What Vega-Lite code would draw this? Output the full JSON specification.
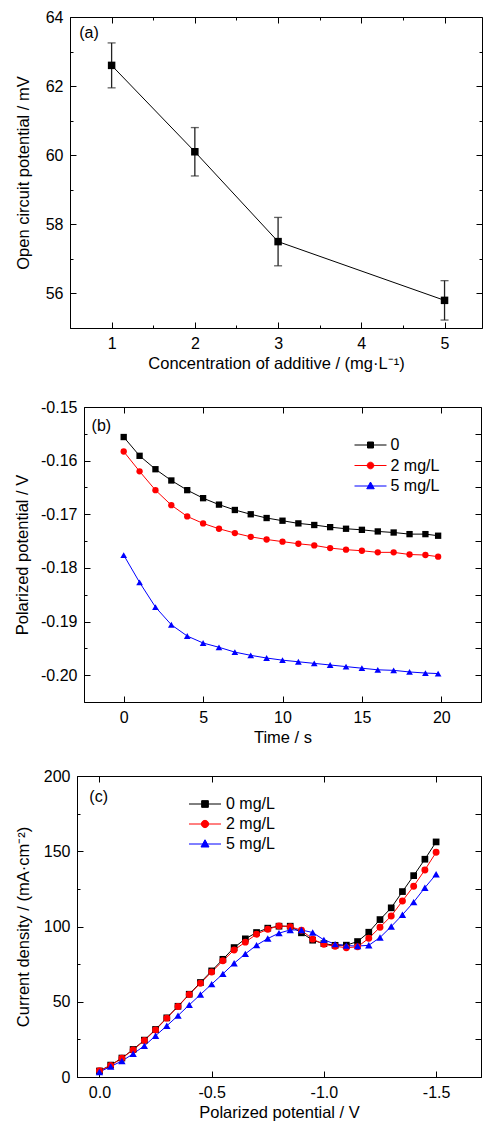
{
"$schema": "https://vega.github.io/schema/vega-lite/v6.json",
"padding": {"left": 0, "top": 8, "right": 0, "bottom": 0},
"background": "white",
"config": {
 "font": "Liberation Sans",
 "view": {"stroke": "black", "strokeWidth": 1},
 "axis": {"grid": false, "domainColor": "black", "domainWidth": 1, "tickColor": "black", "tickWidth": 1, "tickSize": -6, "labelColor": "black", "labelFont": "Liberation Sans", "labelFontSize": 16, "labelPadding": 13, "titleFont": "Liberation Sans", "titleFontSize": 16.5, "titleFontWeight": "normal", "titleColor": "black", "labelFlush": false, "labelOverlap": false},
 "legend": {"labelFont": "Liberation Sans", "labelFontSize": 16, "labelColor": "black"}
},
"datasets": {
 "a": [
  {"conc": 1, "ocp": 62.6, "lo": 61.95, "hi": 63.25},
  {"conc": 2, "ocp": 60.1, "lo": 59.4, "hi": 60.8},
  {"conc": 3, "ocp": 57.5, "lo": 56.8, "hi": 58.2},
  {"conc": 5, "ocp": 55.8, "lo": 55.23, "hi": 56.37}
 ],
 "b": [
  {"t":0,"v":-0.1556,"s":"0"},{"t":1,"v":-0.1591,"s":"0"},{"t":2,"v":-0.1616,"s":"0"},{"t":3,"v":-0.1637,"s":"0"},{"t":4,"v":-0.1655,"s":"0"},{"t":5,"v":-0.1670,"s":"0"},{"t":6,"v":-0.1682,"s":"0"},{"t":7,"v":-0.1692,"s":"0"},{"t":8,"v":-0.1700,"s":"0"},{"t":9,"v":-0.1707,"s":"0"},{"t":10,"v":-0.1712,"s":"0"},{"t":11,"v":-0.1717,"s":"0"},{"t":12,"v":-0.1720,"s":"0"},{"t":13,"v":-0.1724,"s":"0"},{"t":14,"v":-0.1727,"s":"0"},{"t":15,"v":-0.1729,"s":"0"},{"t":16,"v":-0.1732,"s":"0"},{"t":17,"v":-0.1734,"s":"0"},{"t":18,"v":-0.1737,"s":"0"},{"t":19,"v":-0.1737,"s":"0"},{"t":19.8,"v":-0.1740,"s":"0"},
  {"t":0,"v":-0.1583,"s":"2 mg/L"},{"t":1,"v":-0.1620,"s":"2 mg/L"},{"t":2,"v":-0.1655,"s":"2 mg/L"},{"t":3,"v":-0.1683,"s":"2 mg/L"},{"t":4,"v":-0.1704,"s":"2 mg/L"},{"t":5,"v":-0.1717,"s":"2 mg/L"},{"t":6,"v":-0.1727,"s":"2 mg/L"},{"t":7,"v":-0.1735,"s":"2 mg/L"},{"t":8,"v":-0.1742,"s":"2 mg/L"},{"t":9,"v":-0.1747,"s":"2 mg/L"},{"t":10,"v":-0.1751,"s":"2 mg/L"},{"t":11,"v":-0.1755,"s":"2 mg/L"},{"t":12,"v":-0.1758,"s":"2 mg/L"},{"t":13,"v":-0.1763,"s":"2 mg/L"},{"t":14,"v":-0.1766,"s":"2 mg/L"},{"t":15,"v":-0.1768,"s":"2 mg/L"},{"t":16,"v":-0.1771,"s":"2 mg/L"},{"t":17,"v":-0.1771,"s":"2 mg/L"},{"t":18,"v":-0.1775,"s":"2 mg/L"},{"t":19,"v":-0.1776,"s":"2 mg/L"},{"t":19.8,"v":-0.1779,"s":"2 mg/L"},
  {"t":0,"v":-0.1776,"s":"5 mg/L"},{"t":1,"v":-0.1827,"s":"5 mg/L"},{"t":2,"v":-0.1873,"s":"5 mg/L"},{"t":3,"v":-0.1906,"s":"5 mg/L"},{"t":4,"v":-0.1927,"s":"5 mg/L"},{"t":5,"v":-0.1940,"s":"5 mg/L"},{"t":6,"v":-0.1948,"s":"5 mg/L"},{"t":7,"v":-0.1957,"s":"5 mg/L"},{"t":8,"v":-0.1963,"s":"5 mg/L"},{"t":9,"v":-0.1968,"s":"5 mg/L"},{"t":10,"v":-0.1972,"s":"5 mg/L"},{"t":11,"v":-0.1975,"s":"5 mg/L"},{"t":12,"v":-0.1978,"s":"5 mg/L"},{"t":13,"v":-0.1981,"s":"5 mg/L"},{"t":14,"v":-0.1984,"s":"5 mg/L"},{"t":15,"v":-0.1987,"s":"5 mg/L"},{"t":16,"v":-0.1990,"s":"5 mg/L"},{"t":17,"v":-0.1991,"s":"5 mg/L"},{"t":18,"v":-0.1994,"s":"5 mg/L"},{"t":19,"v":-0.1996,"s":"5 mg/L"},{"t":19.8,"v":-0.1997,"s":"5 mg/L"}
 ],
 "c": [
  {"p":0,"j":4.0,"s":"0 mg/L"},{"p":-0.05,"j":7.9,"s":"0 mg/L"},{"p":-0.1,"j":12.6,"s":"0 mg/L"},{"p":-0.15,"j":18.3,"s":"0 mg/L"},{"p":-0.2,"j":24.5,"s":"0 mg/L"},{"p":-0.25,"j":31.6,"s":"0 mg/L"},{"p":-0.3,"j":39.3,"s":"0 mg/L"},{"p":-0.35,"j":47.0,"s":"0 mg/L"},{"p":-0.4,"j":55.0,"s":"0 mg/L"},{"p":-0.45,"j":62.8,"s":"0 mg/L"},{"p":-0.5,"j":70.5,"s":"0 mg/L"},{"p":-0.55,"j":78.2,"s":"0 mg/L"},{"p":-0.6,"j":86.0,"s":"0 mg/L"},{"p":-0.65,"j":91.8,"s":"0 mg/L"},{"p":-0.7,"j":96.0,"s":"0 mg/L"},{"p":-0.75,"j":98.9,"s":"0 mg/L"},{"p":-0.8,"j":100.2,"s":"0 mg/L"},{"p":-0.85,"j":100.2,"s":"0 mg/L"},{"p":-0.9,"j":95.8,"s":"0 mg/L"},{"p":-0.95,"j":90.9,"s":"0 mg/L"},{"p":-1.0,"j":88.6,"s":"0 mg/L"},{"p":-1.05,"j":87.5,"s":"0 mg/L"},{"p":-1.1,"j":87.6,"s":"0 mg/L"},{"p":-1.15,"j":90.0,"s":"0 mg/L"},{"p":-1.2,"j":96.2,"s":"0 mg/L"},{"p":-1.25,"j":104.6,"s":"0 mg/L"},{"p":-1.3,"j":112.4,"s":"0 mg/L"},{"p":-1.35,"j":123.2,"s":"0 mg/L"},{"p":-1.4,"j":133.8,"s":"0 mg/L"},{"p":-1.45,"j":144.7,"s":"0 mg/L"},{"p":-1.5,"j":156.2,"s":"0 mg/L"},
  {"p":0,"j":4.1,"s":"2 mg/L"},{"p":-0.05,"j":7.6,"s":"2 mg/L"},{"p":-0.1,"j":12.5,"s":"2 mg/L"},{"p":-0.15,"j":18.0,"s":"2 mg/L"},{"p":-0.2,"j":24.2,"s":"2 mg/L"},{"p":-0.25,"j":31.3,"s":"2 mg/L"},{"p":-0.3,"j":39.1,"s":"2 mg/L"},{"p":-0.35,"j":46.8,"s":"2 mg/L"},{"p":-0.4,"j":54.8,"s":"2 mg/L"},{"p":-0.45,"j":62.3,"s":"2 mg/L"},{"p":-0.5,"j":69.8,"s":"2 mg/L"},{"p":-0.55,"j":77.2,"s":"2 mg/L"},{"p":-0.6,"j":84.4,"s":"2 mg/L"},{"p":-0.65,"j":89.6,"s":"2 mg/L"},{"p":-0.7,"j":94.9,"s":"2 mg/L"},{"p":-0.75,"j":98.2,"s":"2 mg/L"},{"p":-0.8,"j":100.4,"s":"2 mg/L"},{"p":-0.85,"j":99.9,"s":"2 mg/L"},{"p":-0.9,"j":97.5,"s":"2 mg/L"},{"p":-0.95,"j":91.6,"s":"2 mg/L"},{"p":-1.0,"j":88.2,"s":"2 mg/L"},{"p":-1.05,"j":86.9,"s":"2 mg/L"},{"p":-1.1,"j":85.9,"s":"2 mg/L"},{"p":-1.15,"j":86.5,"s":"2 mg/L"},{"p":-1.2,"j":92.2,"s":"2 mg/L"},{"p":-1.25,"j":99.5,"s":"2 mg/L"},{"p":-1.3,"j":107.0,"s":"2 mg/L"},{"p":-1.35,"j":117.0,"s":"2 mg/L"},{"p":-1.4,"j":126.8,"s":"2 mg/L"},{"p":-1.45,"j":137.6,"s":"2 mg/L"},{"p":-1.5,"j":149.3,"s":"2 mg/L"},
  {"p":0,"j":3.3,"s":"5 mg/L"},{"p":-0.05,"j":7.0,"s":"5 mg/L"},{"p":-0.1,"j":10.6,"s":"5 mg/L"},{"p":-0.15,"j":15.4,"s":"5 mg/L"},{"p":-0.2,"j":20.7,"s":"5 mg/L"},{"p":-0.25,"j":27.4,"s":"5 mg/L"},{"p":-0.3,"j":34.0,"s":"5 mg/L"},{"p":-0.35,"j":40.8,"s":"5 mg/L"},{"p":-0.4,"j":47.9,"s":"5 mg/L"},{"p":-0.45,"j":54.8,"s":"5 mg/L"},{"p":-0.5,"j":61.7,"s":"5 mg/L"},{"p":-0.55,"j":68.5,"s":"5 mg/L"},{"p":-0.6,"j":75.6,"s":"5 mg/L"},{"p":-0.65,"j":81.8,"s":"5 mg/L"},{"p":-0.7,"j":87.6,"s":"5 mg/L"},{"p":-0.75,"j":92.0,"s":"5 mg/L"},{"p":-0.8,"j":95.6,"s":"5 mg/L"},{"p":-0.85,"j":97.7,"s":"5 mg/L"},{"p":-0.9,"j":97.7,"s":"5 mg/L"},{"p":-0.95,"j":96.0,"s":"5 mg/L"},{"p":-1.0,"j":91.1,"s":"5 mg/L"},{"p":-1.05,"j":88.3,"s":"5 mg/L"},{"p":-1.1,"j":87.3,"s":"5 mg/L"},{"p":-1.15,"j":87.0,"s":"5 mg/L"},{"p":-1.2,"j":87.5,"s":"5 mg/L"},{"p":-1.25,"j":92.7,"s":"5 mg/L"},{"p":-1.3,"j":100.0,"s":"5 mg/L"},{"p":-1.35,"j":107.8,"s":"5 mg/L"},{"p":-1.4,"j":116.2,"s":"5 mg/L"},{"p":-1.45,"j":125.8,"s":"5 mg/L"},{"p":-1.5,"j":134.7,"s":"5 mg/L"}
 ]
},
"spacing": 21,
"resolve": {"scale": {"color": "independent", "shape": "independent"}},
"vconcat": [
 {
  "spacing": 26,
  "resolve": {"scale": {"color": "independent", "shape": "independent"}},
  "vconcat": [
   {"spacing": 0, "hconcat": [
    {"width": 14, "height": 10, "view": {"stroke": null}, "data": {"values": [{}]}, "mark": {"type": "point", "size": 0, "opacity": 0}},
    {
    "width": 412, "height": 311,
    "data": {"name": "a"},
    "resolve": {"axis": {"x": "independent", "y": "independent"}},
    "layer": [
     {"mark": {"type": "line", "color": "black", "strokeWidth": 1},
      "encoding": {
       "x": {"field": "conc", "type": "quantitative", "scale": {"domain": [0.5, 5.45], "nice": false, "zero": false}, "axis": {"orient": "bottom", "values": [1,2,3,4,5], "format": "d", "title": "Concentration of additive / (mg·L⁻¹)", "titlePadding": 4}},
       "y": {"field": "ocp", "type": "quantitative", "scale": {"domain": [55, 64], "nice": false, "zero": false}, "axis": {"orient": "left", "values": [56,58,60,62,64], "format": "d", "title": "Open circuit potential / mV", "titlePadding": 14}}}},
     {"mark": {"type": "rule", "color": "#222222", "strokeWidth": 1.3},
      "encoding": {
       "x": {"field": "conc", "type": "quantitative", "scale": {"domain": [0.5, 5.45], "nice": false, "zero": false}, "axis": {"orient": "bottom", "values": [1.5,2.5,3.5,4.5], "labels": false, "title": null, "domain": false, "tickSize": -3}},
       "y": {"field": "lo", "type": "quantitative", "scale": {"domain": [55, 64], "nice": false, "zero": false}, "axis": {"orient": "left", "values": [57,59,61,63], "labels": false, "title": null, "domain": false, "tickSize": -3}},
       "y2": {"field": "hi"}}},
     {"mark": {"type": "tick", "orient": "horizontal", "color": "#222222", "size": 8, "thickness": 1.3},
      "encoding": {
       "x": {"field": "conc", "type": "quantitative", "scale": {"domain": [0.5, 5.45], "nice": false, "zero": false}, "axis": {"orient": "top", "values": [1,2,3,4,5], "labels": false, "title": null, "domain": false}},
       "y": {"field": "lo", "type": "quantitative", "scale": {"domain": [55, 64], "nice": false, "zero": false}, "axis": {"orient": "right", "values": [56,58,60,62,64], "labels": false, "title": null, "domain": false}}}},
     {"mark": {"type": "tick", "orient": "horizontal", "color": "#222222", "size": 8, "thickness": 1.3},
      "encoding": {
       "x": {"field": "conc", "type": "quantitative", "scale": {"domain": [0.5, 5.45], "nice": false, "zero": false}, "axis": {"orient": "top", "values": [1.5,2.5,3.5,4.5], "labels": false, "title": null, "domain": false, "tickSize": -3}},
       "y": {"field": "hi", "type": "quantitative", "scale": {"domain": [55, 64], "nice": false, "zero": false}, "axis": {"orient": "right", "values": [57,59,61,63], "labels": false, "title": null, "domain": false, "tickSize": -3}}}},
     {"mark": {"type": "point", "shape": "square", "filled": true, "size": 56, "color": "black", "opacity": 1},
      "encoding": {
       "x": {"field": "conc", "type": "quantitative", "scale": {"domain": [0.5, 5.45], "nice": false, "zero": false}, "axis": null},
       "y": {"field": "ocp", "type": "quantitative", "scale": {"domain": [55, 64], "nice": false, "zero": false}, "axis": null}}},
     {"data": {"values": [{}]},
      "mark": {"type": "text", "align": "left", "baseline": "middle", "fontSize": 16, "font": "Liberation Sans", "color": "black"},
      "encoding": {
       "x": {"datum": 0.61, "type": "quantitative", "scale": {"domain": [0.5, 5.45], "nice": false, "zero": false}, "axis": null},
       "y": {"datum": 63.53, "type": "quantitative", "scale": {"domain": [55, 64], "nice": false, "zero": false}, "axis": null},
       "text": {"value": "(a)"}}}
    ]
   }]},
   {"spacing": 0, "resolve": {"scale": {"color": "independent", "shape": "independent"}}, "hconcat": [
    {"width": 14, "height": 10, "view": {"stroke": null}, "data": {"values": [{}]}, "mark": {"type": "point", "size": 0, "opacity": 0}},
    {
    "width": 397, "height": 295,
    "data": {"name": "b"},
    "resolve": {"axis": {"x": "independent", "y": "independent"}},
    "layer": [
     {"mark": {"type": "line", "strokeWidth": 1},
      "encoding": {
       "x": {"field": "t", "type": "quantitative", "scale": {"domain": [-2.5, 22.5], "nice": false, "zero": false}, "axis": {"orient": "bottom", "values": [0,5,10,15,20], "format": "d", "title": "Time / s", "titlePadding": 4}},
       "y": {"field": "v", "type": "quantitative", "scale": {"domain": [-0.205, -0.15], "nice": false, "zero": false}, "axis": {"orient": "left", "values": [-0.15,-0.16,-0.17,-0.18,-0.19,-0.2], "labelExpr": "datum.value < 0 ? '-' + format(-datum.value, '.2f') : format(datum.value, '.2f')", "title": "Polarized potential / V", "titlePadding": 10}},
       "color": {"field": "s", "type": "nominal", "scale": {"domain": ["0","2 mg/L","5 mg/L"], "range": ["#000000","#ff0000","#0000ff"]},
        "legend": {"title": null, "orient": "none", "legendX": 278.5, "legendY": 30, "padding": 0, "symbolSize": 100, "symbolStrokeWidth": 1, "labelOffset": 12, "labelFontSize": 16, "rowPadding": 4.5,
         "encode": {"symbols": {"update": {
          "shape": {"signal": "datum.value === '0' ? 'M-3.2,0L3.2,0M-0.6,-0.6L0.6,-0.6L0.6,0.6L-0.6,0.6Z' : (datum.value === '2 mg/L' ? 'M-3.2,0L3.2,0M0.66,0A0.66,0.66,0,1,1,-0.66,0A0.66,0.66,0,1,1,0.66,0Z' : 'M-3.2,0L3.2,0M0,-0.8L0.75,0.55L-0.75,0.55Z')"},
          "fill": {"signal": "datum.value === '0' ? '#000000' : (datum.value === '2 mg/L' ? '#ff0000' : '#0000ff')"},
          "stroke": {"signal": "datum.value === '0' ? '#000000' : (datum.value === '2 mg/L' ? '#ff0000' : '#0000ff')"},
          "opacity": {"value": 1}}}}}}}},
     {"transform": [{"filter": "datum.s === '0'"}],
      "mark": {"type": "point", "shape": "square", "filled": true, "size": 40, "opacity": 1},
      "encoding": {
       "x": {"field": "t", "type": "quantitative", "scale": {"domain": [-2.5, 22.5], "nice": false, "zero": false}, "axis": {"orient": "top", "values": [0,5,10,15,20], "labels": false, "title": null, "domain": false}},
       "y": {"field": "v", "type": "quantitative", "scale": {"domain": [-0.205, -0.15], "nice": false, "zero": false}, "axis": {"orient": "left", "values": [-0.155,-0.165,-0.175,-0.185,-0.195], "labels": false, "title": null, "domain": false, "tickSize": -3}},
       "color": {"field": "s", "type": "nominal", "scale": {"domain": ["0","2 mg/L","5 mg/L"], "range": ["#000000","#ff0000","#0000ff"]},
        "legend": {"title": null, "orient": "none", "legendX": 278.5, "legendY": 30, "padding": 0, "symbolSize": 100, "symbolStrokeWidth": 1, "labelOffset": 12, "labelFontSize": 16, "rowPadding": 4.5,
         "encode": {"symbols": {"update": {
          "shape": {"signal": "datum.value === '0' ? 'M-3.2,0L3.2,0M-0.6,-0.6L0.6,-0.6L0.6,0.6L-0.6,0.6Z' : (datum.value === '2 mg/L' ? 'M-3.2,0L3.2,0M0.66,0A0.66,0.66,0,1,1,-0.66,0A0.66,0.66,0,1,1,0.66,0Z' : 'M-3.2,0L3.2,0M0,-0.8L0.75,0.55L-0.75,0.55Z')"},
          "fill": {"signal": "datum.value === '0' ? '#000000' : (datum.value === '2 mg/L' ? '#ff0000' : '#0000ff')"},
          "stroke": {"signal": "datum.value === '0' ? '#000000' : (datum.value === '2 mg/L' ? '#ff0000' : '#0000ff')"},
          "opacity": {"value": 1}}}}}}}},
     {"transform": [{"filter": "datum.s === '2 mg/L'"}],
      "mark": {"type": "point", "shape": "circle", "filled": true, "size": 40, "opacity": 1},
      "encoding": {
       "x": {"field": "t", "type": "quantitative", "scale": {"domain": [-2.5, 22.5], "nice": false, "zero": false}, "axis": null},
       "y": {"field": "v", "type": "quantitative", "scale": {"domain": [-0.205, -0.15], "nice": false, "zero": false}, "axis": null},
       "color": {"field": "s", "type": "nominal", "scale": {"domain": ["0","2 mg/L","5 mg/L"], "range": ["#000000","#ff0000","#0000ff"]},
        "legend": {"title": null, "orient": "none", "legendX": 278.5, "legendY": 30, "padding": 0, "symbolSize": 100, "symbolStrokeWidth": 1, "labelOffset": 12, "labelFontSize": 16, "rowPadding": 4.5,
         "encode": {"symbols": {"update": {
          "shape": {"signal": "datum.value === '0' ? 'M-3.2,0L3.2,0M-0.6,-0.6L0.6,-0.6L0.6,0.6L-0.6,0.6Z' : (datum.value === '2 mg/L' ? 'M-3.2,0L3.2,0M0.66,0A0.66,0.66,0,1,1,-0.66,0A0.66,0.66,0,1,1,0.66,0Z' : 'M-3.2,0L3.2,0M0,-0.8L0.75,0.55L-0.75,0.55Z')"},
          "fill": {"signal": "datum.value === '0' ? '#000000' : (datum.value === '2 mg/L' ? '#ff0000' : '#0000ff')"},
          "stroke": {"signal": "datum.value === '0' ? '#000000' : (datum.value === '2 mg/L' ? '#ff0000' : '#0000ff')"},
          "opacity": {"value": 1}}}}}}}},
     {"transform": [{"filter": "datum.s === '5 mg/L'"}],
      "mark": {"type": "point", "shape": "triangle-up", "filled": true, "size": 45, "opacity": 1},
      "encoding": {
       "x": {"field": "t", "type": "quantitative", "scale": {"domain": [-2.5, 22.5], "nice": false, "zero": false}, "axis": null},
       "y": {"field": "v", "type": "quantitative", "scale": {"domain": [-0.205, -0.15], "nice": false, "zero": false}, "axis": null},
       "color": {"field": "s", "type": "nominal", "scale": {"domain": ["0","2 mg/L","5 mg/L"], "range": ["#000000","#ff0000","#0000ff"]},
        "legend": {"title": null, "orient": "none", "legendX": 278.5, "legendY": 30, "padding": 0, "symbolSize": 100, "symbolStrokeWidth": 1, "labelOffset": 12, "labelFontSize": 16, "rowPadding": 4.5,
         "encode": {"symbols": {"update": {
          "shape": {"signal": "datum.value === '0' ? 'M-3.2,0L3.2,0M-0.6,-0.6L0.6,-0.6L0.6,0.6L-0.6,0.6Z' : (datum.value === '2 mg/L' ? 'M-3.2,0L3.2,0M0.66,0A0.66,0.66,0,1,1,-0.66,0A0.66,0.66,0,1,1,0.66,0Z' : 'M-3.2,0L3.2,0M0,-0.8L0.75,0.55L-0.75,0.55Z')"},
          "fill": {"signal": "datum.value === '0' ? '#000000' : (datum.value === '2 mg/L' ? '#ff0000' : '#0000ff')"},
          "stroke": {"signal": "datum.value === '0' ? '#000000' : (datum.value === '2 mg/L' ? '#ff0000' : '#0000ff')"},
          "opacity": {"value": 1}}}}}}}},
     {"data": {"values": [{}]},
      "mark": {"type": "text", "align": "left", "baseline": "middle", "fontSize": 16, "font": "Liberation Sans", "color": "black"},
      "encoding": {
       "x": {"datum": -2.02, "type": "quantitative", "scale": {"domain": [-2.5, 22.5], "nice": false, "zero": false}, "axis": null},
       "y": {"datum": -0.15354, "type": "quantitative", "scale": {"domain": [-0.205, -0.15], "nice": false, "zero": false}, "axis": {"orient": "right", "values": [-0.15,-0.155,-0.16,-0.165,-0.17,-0.175,-0.18,-0.185,-0.19,-0.195,-0.2], "labels": false, "title": null, "domain": false}},
       "text": {"value": "(b)"}}}
    ]
   }]}
  ]
 },
 {"spacing": 0, "resolve": {"scale": {"color": "independent", "shape": "independent"}}, "hconcat": [
  {"width": 14, "height": 10, "view": {"stroke": null}, "data": {"values": [{}]}, "mark": {"type": "point", "size": 0, "opacity": 0}},
  {
  "width": 404, "height": 301,
  "data": {"name": "c"},
  "resolve": {"axis": {"x": "independent", "y": "independent"}},
  "layer": [
   {"mark": {"type": "line", "strokeWidth": 1},
    "encoding": {
     "x": {"field": "p", "type": "quantitative", "scale": {"domain": [-1.7, 0.1], "reverse": true, "nice": false, "zero": false}, "axis": {"orient": "bottom", "values": [0,-0.5,-1,-1.5], "labelExpr": "datum.value < 0 ? '-' + format(-datum.value, '.1f') : format(datum.value, '.1f')", "title": "Polarized potential / V", "titlePadding": 4}},
     "y": {"field": "j", "type": "quantitative", "scale": {"domain": [0, 200], "nice": false, "zero": false}, "axis": {"orient": "left", "values": [0,50,100,150,200], "format": "d", "title": "Current density / (mA·cm⁻²)", "titlePadding": 12}},
     "color": {"field": "s", "type": "nominal", "scale": {"domain": ["0 mg/L","2 mg/L","5 mg/L"], "range": ["#000000","#ff0000","#0000ff"]},
      "legend": {"title": null, "orient": "none", "legendX": 120, "legendY": 20, "padding": 0, "symbolSize": 100, "symbolStrokeWidth": 1, "labelOffset": 13, "labelFontSize": 16, "rowPadding": 4,
       "encode": {"symbols": {"update": {
        "shape": {"signal": "datum.value === '0 mg/L' ? 'M-3.2,0L3.2,0M-0.67,-0.67L0.67,-0.67L0.67,0.67L-0.67,0.67Z' : (datum.value === '2 mg/L' ? 'M-3.2,0L3.2,0M0.73,0A0.73,0.73,0,1,1,-0.73,0A0.73,0.73,0,1,1,0.73,0Z' : 'M-3.2,0L3.2,0M0,-0.85L0.8,0.6L-0.8,0.6Z')"},
        "fill": {"signal": "datum.value === '0 mg/L' ? '#000000' : (datum.value === '2 mg/L' ? '#ff0000' : '#0000ff')"},
        "stroke": {"signal": "datum.value === '0 mg/L' ? '#000000' : (datum.value === '2 mg/L' ? '#ff0000' : '#0000ff')"},
        "opacity": {"value": 1}}}}}}}},
   {"transform": [{"filter": "datum.s === '0 mg/L'"}],
    "mark": {"type": "point", "shape": "square", "filled": true, "size": 45, "opacity": 1},
    "encoding": {
     "x": {"field": "p", "type": "quantitative", "scale": {"domain": [-1.7, 0.1], "reverse": true, "nice": false, "zero": false}, "axis": {"orient": "top", "values": [0,-0.5,-1,-1.5], "labels": false, "title": null, "domain": false}},
     "y": {"field": "j", "type": "quantitative", "scale": {"domain": [0, 200], "nice": false, "zero": false}, "axis": {"orient": "left", "values": [25,75,125,175], "labels": false, "title": null, "domain": false, "tickSize": -3}},
     "color": {"field": "s", "type": "nominal", "scale": {"domain": ["0 mg/L","2 mg/L","5 mg/L"], "range": ["#000000","#ff0000","#0000ff"]},
      "legend": {"title": null, "orient": "none", "legendX": 120, "legendY": 20, "padding": 0, "symbolSize": 100, "symbolStrokeWidth": 1, "labelOffset": 13, "labelFontSize": 16, "rowPadding": 4,
       "encode": {"symbols": {"update": {
        "shape": {"signal": "datum.value === '0 mg/L' ? 'M-3.2,0L3.2,0M-0.67,-0.67L0.67,-0.67L0.67,0.67L-0.67,0.67Z' : (datum.value === '2 mg/L' ? 'M-3.2,0L3.2,0M0.73,0A0.73,0.73,0,1,1,-0.73,0A0.73,0.73,0,1,1,0.73,0Z' : 'M-3.2,0L3.2,0M0,-0.85L0.8,0.6L-0.8,0.6Z')"},
        "fill": {"signal": "datum.value === '0 mg/L' ? '#000000' : (datum.value === '2 mg/L' ? '#ff0000' : '#0000ff')"},
        "stroke": {"signal": "datum.value === '0 mg/L' ? '#000000' : (datum.value === '2 mg/L' ? '#ff0000' : '#0000ff')"},
        "opacity": {"value": 1}}}}}}}},
   {"transform": [{"filter": "datum.s === '2 mg/L'"}],
    "mark": {"type": "point", "shape": "circle", "filled": true, "size": 48, "opacity": 1},
    "encoding": {
     "x": {"field": "p", "type": "quantitative", "scale": {"domain": [-1.7, 0.1], "reverse": true, "nice": false, "zero": false}, "axis": null},
     "y": {"field": "j", "type": "quantitative", "scale": {"domain": [0, 200], "nice": false, "zero": false}, "axis": null},
     "color": {"field": "s", "type": "nominal", "scale": {"domain": ["0 mg/L","2 mg/L","5 mg/L"], "range": ["#000000","#ff0000","#0000ff"]},
      "legend": {"title": null, "orient": "none", "legendX": 120, "legendY": 20, "padding": 0, "symbolSize": 100, "symbolStrokeWidth": 1, "labelOffset": 13, "labelFontSize": 16, "rowPadding": 4,
       "encode": {"symbols": {"update": {
        "shape": {"signal": "datum.value === '0 mg/L' ? 'M-3.2,0L3.2,0M-0.67,-0.67L0.67,-0.67L0.67,0.67L-0.67,0.67Z' : (datum.value === '2 mg/L' ? 'M-3.2,0L3.2,0M0.73,0A0.73,0.73,0,1,1,-0.73,0A0.73,0.73,0,1,1,0.73,0Z' : 'M-3.2,0L3.2,0M0,-0.85L0.8,0.6L-0.8,0.6Z')"},
        "fill": {"signal": "datum.value === '0 mg/L' ? '#000000' : (datum.value === '2 mg/L' ? '#ff0000' : '#0000ff')"},
        "stroke": {"signal": "datum.value === '0 mg/L' ? '#000000' : (datum.value === '2 mg/L' ? '#ff0000' : '#0000ff')"},
        "opacity": {"value": 1}}}}}}}},
   {"transform": [{"filter": "datum.s === '5 mg/L'"}],
    "mark": {"type": "point", "shape": "triangle-up", "filled": true, "size": 55, "opacity": 1},
    "encoding": {
     "x": {"field": "p", "type": "quantitative", "scale": {"domain": [-1.7, 0.1], "reverse": true, "nice": false, "zero": false}, "axis": null},
     "y": {"field": "j", "type": "quantitative", "scale": {"domain": [0, 200], "nice": false, "zero": false}, "axis": null},
     "color": {"field": "s", "type": "nominal", "scale": {"domain": ["0 mg/L","2 mg/L","5 mg/L"], "range": ["#000000","#ff0000","#0000ff"]},
      "legend": {"title": null, "orient": "none", "legendX": 120, "legendY": 20, "padding": 0, "symbolSize": 100, "symbolStrokeWidth": 1, "labelOffset": 13, "labelFontSize": 16, "rowPadding": 4,
       "encode": {"symbols": {"update": {
        "shape": {"signal": "datum.value === '0 mg/L' ? 'M-3.2,0L3.2,0M-0.67,-0.67L0.67,-0.67L0.67,0.67L-0.67,0.67Z' : (datum.value === '2 mg/L' ? 'M-3.2,0L3.2,0M0.73,0A0.73,0.73,0,1,1,-0.73,0A0.73,0.73,0,1,1,0.73,0Z' : 'M-3.2,0L3.2,0M0,-0.85L0.8,0.6L-0.8,0.6Z')"},
        "fill": {"signal": "datum.value === '0 mg/L' ? '#000000' : (datum.value === '2 mg/L' ? '#ff0000' : '#0000ff')"},
        "stroke": {"signal": "datum.value === '0 mg/L' ? '#000000' : (datum.value === '2 mg/L' ? '#ff0000' : '#0000ff')"},
        "opacity": {"value": 1}}}}}}}},
   {"data": {"values": [{}]},
    "mark": {"type": "text", "align": "left", "baseline": "middle", "fontSize": 16, "font": "Liberation Sans", "color": "black"},
    "encoding": {
     "x": {"datum": 0.045, "type": "quantitative", "scale": {"domain": [-1.7, 0.1], "reverse": true, "nice": false, "zero": false}, "axis": null},
     "y": {"datum": 186.3, "type": "quantitative", "scale": {"domain": [0, 200], "nice": false, "zero": false}, "axis": {"orient": "right", "values": [0,25,50,75,100,125,150,175,200], "labels": false, "title": null, "domain": false}},
     "text": {"value": "(c)"}}}
  ]
 }]}
]
}
